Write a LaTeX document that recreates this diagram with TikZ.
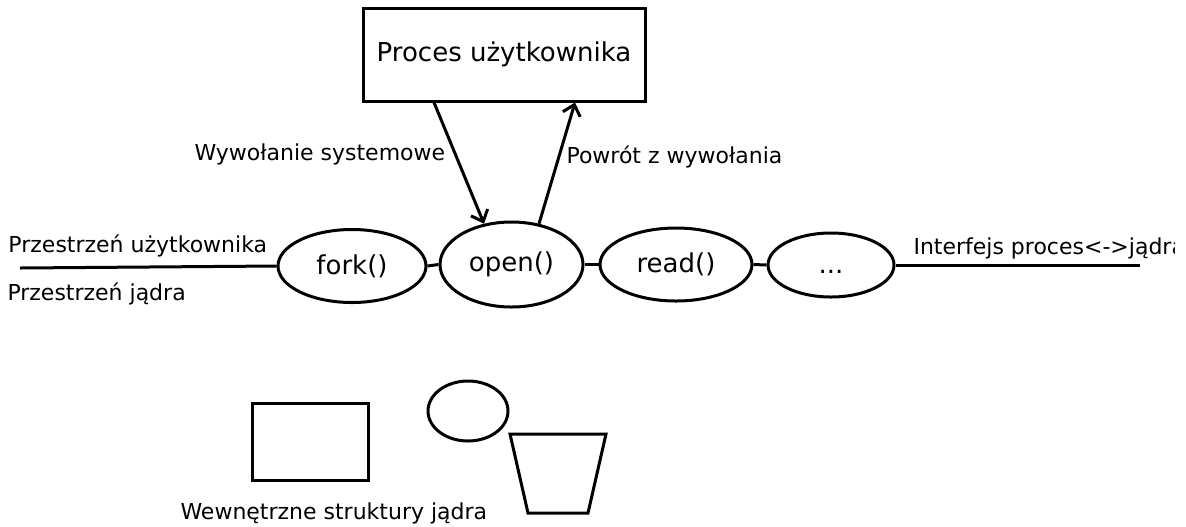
\documentclass[tikz,border=0pt]{standalone}
\usepackage{fontspec}
\setmainfont{DejaVu Sans}
\usetikzlibrary{arrows.meta,shapes.geometric}
\begin{document}
\begin{tikzpicture}[x=0.5pt,y=-0.5pt,
  line width=1.5pt,
  big/.style={font=\fontsize{13}{15}\selectfont},
  call/.style={draw,ellipse,inner sep=0pt,big},
  lbl/.style={inner sep=0pt,anchor=base west,font=\fontsize{11}{13}\selectfont},
  arr/.style={-{Straight Barb[length=5pt,width=9pt,line width=1.5pt]}}
]
\useasboundingbox (0,0) rectangle (1186,526);

% user process
\node[draw,minimum width=141pt,minimum height=46.5pt,inner sep=0pt,big] (box) at (504,54.5) {Proces użytkownika};

% system call interface
\node[call,minimum width=74pt,minimum height=36.5pt] (fork) at (352,266) {fork()};
\node[call,minimum width=71.5pt,minimum height=42.5pt] (open) at (511.5,264.5) {open()};
\node[call,minimum width=76pt,minimum height=36.5pt] (read) at (676,264.5) {read()};
\node[call,minimum width=63pt,minimum height=32pt] (dots) at (831,265) {\vphantom{()}...};

\coordinate (lend) at (20,268);
\coordinate (rend) at (1140,265);
\draw (lend) -- (fork.west);
\draw (fork.east) -- (open.west);
\draw (open.east) -- (read.west);
\draw (read.east) -- (dots.west);
\draw (dots.east) -- (rend);

% call and return
\draw[arr] ([xshift=-35pt]box.south) -- (open.124);
\draw[arr] (open.56) -- ([xshift=35.5pt]box.south);

% labels
\node[lbl] (sys) at (193,160) {Wywołanie systemowe};
\node[lbl] (ret) at (565,163) {Powrót z wywołania};
\node[lbl] (usr) at (7,252) {Przestrzeń użytkownika};
\node[lbl] (krn) at (6,300) {Przestrzeń jądra};
\begin{scope}
  \clip (0,0) rectangle (1174,526);
  \node[lbl] (ifc) at (912,254) {Interfejs proces<->jądra};
\end{scope}

% kernel internal structures
\node[draw,minimum width=58pt,minimum height=38.5pt,inner sep=0pt] (rect) at (310,441.5) {};
\node[draw,ellipse,minimum width=40pt,minimum height=30pt,inner sep=0pt] (oval) at (468,411) {};
\draw (510,434) -- (606,434) -- (588,513) -- (528,513) -- cycle;
\node[lbl] (wew) at (179,519) {Wewnętrzne struktury jądra};
\end{tikzpicture}
\end{document}
